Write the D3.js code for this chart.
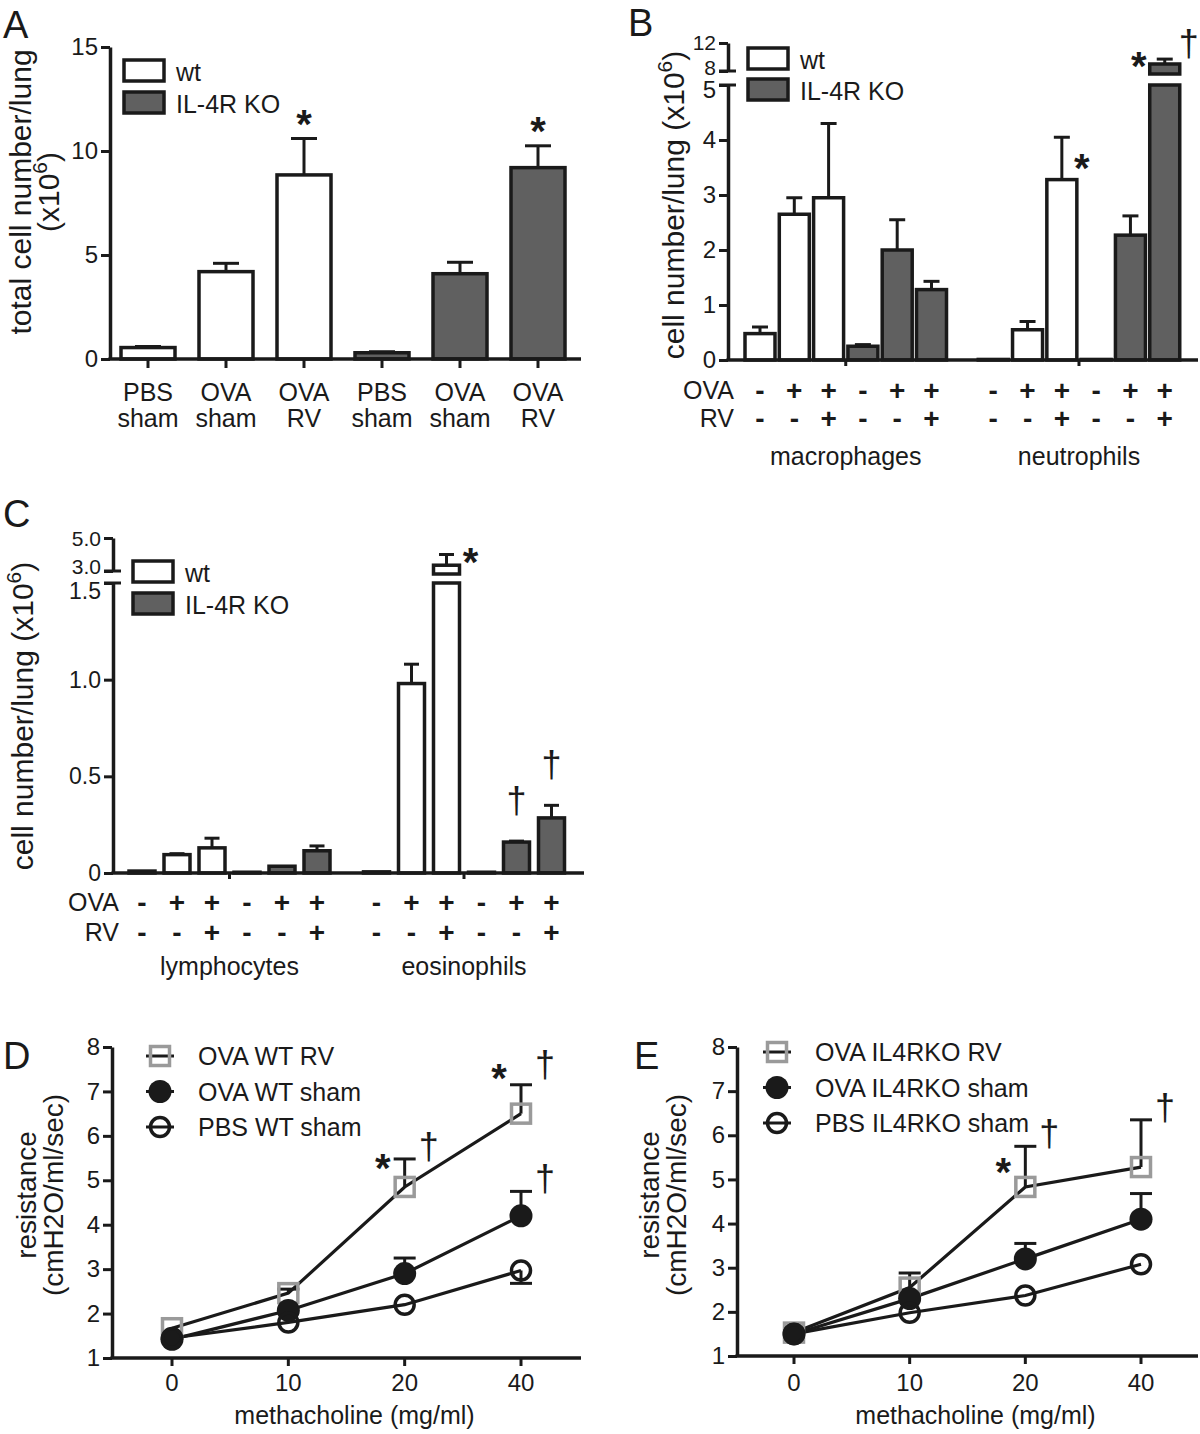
<!DOCTYPE html>
<html>
<head>
<meta charset="utf-8">
<script src="https://cdn.jsdelivr.net/npm/d3@7"></script>
<style>
body { margin: 0; background: #fff; }
</style>
</head>
<body>
<svg id="figure"></svg>
<script>
/* ---- data ---- */

/* panel A: total cells */
var aLabels = [['PBS', 'sham'], ['OVA', 'sham'], ['OVA', 'RV'], ['PBS', 'sham'], ['OVA', 'sham'], ['OVA', 'RV']];
var aGenotype = ['wt', 'wt', 'wt', 'ko', 'ko', 'ko'];
var aValues = [0.55, 4.2, 8.85, 0.3, 4.1, 9.2];
var aErrors = [0.6, 4.6, 10.6, 0.35, 4.65, 10.25];
var aTicks = [0, 5, 10, 15];
var aMarks = [{bar: 2, sym: '*', side: 'top'}, {bar: 5, sym: '*', side: 'top'}];

/* treatment rows shared by B and C (each cell group has 6 bars) */
var treatOVA = ['-', '+', '+', '-', '+', '+'];
var treatRV = ['-', '-', '+', '-', '-', '+'];
var barGenotype = ['wt', 'wt', 'wt', 'ko', 'ko', 'ko'];

/* panel B: macrophages, neutrophils */
var bCells = ['macrophages', 'neutrophils'];
var bValues = [0.48, 2.65, 2.95, 0.25, 2.0, 1.28, 0.01, 0.55, 3.28, 0.01, 2.27, 9.0];
var bErrors = [0.6, 2.95, 4.3, 0.28, 2.55, 1.43, null, 0.7, 4.05, null, 2.62, 9.7];
var bTicksLow = [0, 1, 2, 3, 4, 5];
var bTicksHigh = [8, 12];
var bMarks = [{bar: 8, sym: '*', side: 'rightlow'}, {bar: 11, sym: '*', side: 'left'}, {bar: 11, sym: '\u2020', side: 'right'}];

/* panel C: lymphocytes, eosinophils */
var cCells = ['lymphocytes', 'eosinophils'];
var cValues = [0.01, 0.095, 0.13, 0.004, 0.035, 0.115, 0.006, 0.98, 3.35, 0.004, 0.16, 0.285];
var cErrors = [null, 0.1, 0.18, null, null, 0.14, null, 1.08, 4.0, null, 0.165, 0.35];
var cTicksLow = [0, 0.5, 1.0, 1.5];
var cTicksHigh = [3.0, 5.0];
var cMarks = [{bar: 8, sym: '*', side: 'right'}, {bar: 10, sym: '\u2020', side: 'top'}, {bar: 11, sym: '\u2020', side: 'top'}];

/* panels D and E: airway resistance */
var doses = ['0', '10', '20', '40'];
var resTicks = [1, 2, 3, 4, 5, 6, 7, 8];

var dNames = ['OVA WT RV', 'OVA WT sham', 'PBS WT sham'];
var dRV = [1.67, 2.46, 4.85, 6.5];
var dRVErr = [null, 2.55, 5.48, 7.15];
var dSham = [1.42, 2.07, 2.9, 4.2];
var dShamErr = [null, null, 3.25, 4.75];
var dPBS = [1.45, 1.8, 2.2, 2.97];
var dPBSErr = [null, null, null, 2.68];
var dMarks = [{s: 0, d: 2, sym: '*', at: 'cap'}, {s: 0, d: 2, sym: '\u2020', at: 'cap'},
              {s: 0, d: 3, sym: '*', at: 'above'}, {s: 0, d: 3, sym: '\u2020', at: 'above'},
              {s: 1, d: 3, sym: '\u2020', at: 'cap'}];

var eNames = ['OVA IL4RKO RV', 'OVA IL4RKO sham', 'PBS IL4RKO sham'];
var eRV = [1.53, 2.55, 4.83, 5.28];
var eRVErr = [null, 2.88, 5.75, 6.35];
var eSham = [1.5, 2.3, 3.2, 4.1];
var eShamErr = [null, null, 3.55, 4.68];
var ePBS = [1.5, 1.98, 2.37, 3.08];
var ePBSErr = [null, null, null, null];
var eMarks = [{s: 0, d: 2, sym: '*', at: 'mid'}, {s: 0, d: 2, sym: '\u2020', at: 'cap'},
              {s: 0, d: 3, sym: '\u2020', at: 'cap'}];

/* ---- drawing ---- */
var width = 1200;
var height = 1434;
var font = '"Liberation Sans", Arial, Helvetica, sans-serif';
var ink = '#1a1a1a';
var koFill = '#606060';
var markerGray = '#9a9a9a';

var svg = d3.select('#figure').attr('width', width).attr('height', height)
    .style('font-family', font);
svg.append('rect').attr('width', width).attr('height', height).attr('fill', '#fff');

function addText(g, x, y, str, size, anchor, weight) {
    return g.append('text')
        .attr('x', x).attr('y', y)
        .attr('font-size', size)
        .attr('text-anchor', anchor || 'start')
        .attr('font-weight', weight || 'normal')
        .attr('fill', ink)
        .text(str);
}

function panelLetter(letter, x, y) {
    addText(svg, x, y, letter, 38);
}

/* rotated axis title; parts with sup=true are raised */
function yTitle(x, cy, parts, size) {
    var t = svg.append('text')
        .attr('transform', 'translate(' + x + ',' + cy + ') rotate(-90)')
        .attr('text-anchor', 'middle')
        .attr('font-size', size)
        .attr('fill', ink);
    parts.forEach(function(p) {
        if (p.sup) {
            t.append('tspan').attr('dy', -12).attr('font-size', size * 0.7).text(p.t);
        } else if (p.down) {
            t.append('tspan').attr('dy', 12).text(p.t);
        } else {
            t.append('tspan').text(p.t);
        }
    });
}

function leftAxis(x, scale, ticks, fmt, shift, size) {
    var ax = d3.axisLeft(scale).tickValues(ticks).tickSize(9).tickSizeOuter(0).tickPadding(3)
        .tickFormat(fmt || function(d) { return String(d); });
    var a = svg.append('g').attr('transform', 'translate(' + x + ',0)').call(ax);
    a.select('.domain').attr('stroke', ink).attr('stroke-width', 3.5);
    a.selectAll('.tick line').attr('stroke', ink).attr('stroke-width', 3);
    a.selectAll('.tick text').attr('font-size', size || 24).attr('font-family', font).attr('fill', ink)
        .attr('y', function(d) { return shift ? shift(d) : 0; });
    return a;
}

function hLine(x1, x2, y, w) {
    svg.append('line').attr('x1', x1).attr('x2', x2).attr('y1', y).attr('y2', y)
        .attr('stroke', ink).attr('stroke-width', w || 3.5);
}

function vLine(x, y1, y2, w) {
    svg.append('line').attr('x1', x).attr('x2', x).attr('y1', y1).attr('y2', y2)
        .attr('stroke', ink).attr('stroke-width', w || 3);
}

function drawMark(x, y, sym) {
    /* x,y is the visual centre of the glyph */
    if (sym === '*') {
        addText(svg, x, y + 23, '*', 40, 'middle', 'bold');
    } else {
        addText(svg, x, y + 10, sym, 36, 'middle');
    }
}

function legendBoxes(x, y1, y2, labels) {
    [y1, y2].forEach(function(y, k) {
        svg.append('rect').attr('x', x).attr('y', y).attr('width', 40).attr('height', 21)
            .attr('fill', k === 0 ? '#fff' : koFill).attr('stroke', ink).attr('stroke-width', 3.5);
        addText(svg, x + 52, y + 21, labels[k], 25);
    });
}

/* bars with optional broken axis */
function drawBars(xs, yLow, yHigh, lowMax, values, errors, genotype, barW, capW) {
    var tops = [];
    values.forEach(function(v, i) {
        var x = xs(i);
        var fill = genotype[i % genotype.length] === 'ko' ? koFill : '#fff';
        var top;
        if (yHigh && v > lowMax) {
            svg.append('rect').attr('x', x - barW / 2).attr('y', yLow(lowMax))
                .attr('width', barW).attr('height', yLow(0) - yLow(lowMax))
                .attr('fill', fill).attr('stroke', ink).attr('stroke-width', 3.5);
            var base = yHigh.range()[0] + 3;
            svg.append('rect').attr('x', x - barW / 2).attr('y', yHigh(v))
                .attr('width', barW).attr('height', base - yHigh(v))
                .attr('fill', fill).attr('stroke', ink).attr('stroke-width', 3.5);
            top = yHigh(v);
        } else {
            svg.append('rect').attr('x', x - barW / 2).attr('y', yLow(v))
                .attr('width', barW).attr('height', Math.max(0.5, yLow(0) - yLow(v)))
                .attr('fill', fill).attr('stroke', ink).attr('stroke-width', 3.5);
            top = yLow(v);
        }
        var errTop = top;
        if (errors[i] != null) {
            var e = errors[i];
            errTop = (yHigh && e > lowMax) ? yHigh(e) : yLow(e);
            vLine(x, top, errTop, 3);
            hLine(x - capW / 2, x + capW / 2, errTop, 3);
        }
        tops.push(errTop);
    });
    return tops;
}

function barMarks(marks, xs, tops, topGap) {
    marks.forEach(function(m) {
        var x = xs(m.bar);
        var y = tops[m.bar];
        if (m.side === 'top') drawMark(x, y - topGap, m.sym);
        else if (m.side === 'rightlow') drawMark(x + 20, y + 22, m.sym);
        else if (m.side === 'right') drawMark(x + 24, y - (m.sym === '*' ? 2 : 13), m.sym);
        else drawMark(x - 26, y - 2, m.sym);
    });
}

/* a broken axis gets a short cross stroke at each cut end */
function breakStroke(x, y) {
    hLine(x - 9, x + 8, y, 3);
}

/* treatment rows and group labels under B and C */
function treatmentRows(xs, axisX, yOVA, yRV, yCell, cells) {
    addText(svg, axisX + 6, yOVA + 9, 'OVA', 25, 'end');
    addText(svg, axisX + 6, yRV + 9, 'RV', 25, 'end');
    for (var i = 0; i < 12; i++) {
        var j = i % 6;
        addText(svg, xs(i), yOVA + 10, treatOVA[j], 28, 'middle', 'bold');
        addText(svg, xs(i), yRV + 10, treatRV[j], 28, 'middle', 'bold');
    }
    cells.forEach(function(c, k) {
        var mid = (xs(k * 6) + xs(k * 6 + 5)) / 2;
        addText(svg, mid, yCell + 8, c, 25, 'middle');
    });
}

/* ---------- Panel A ---------- */
(function() {
    var axisX = 110;
    var y = d3.scaleLinear().domain([0, 15]).range([359, 47]);
    var xs = d3.scalePoint().domain(d3.range(6)).range([148, 538]);
    panelLetter('A', 3, 38);
    var tops = drawBars(xs, y, null, null, aValues, aErrors, aGenotype, 54, 26);
    leftAxis(axisX, y, aTicks);
    hLine(axisX - 1.5, 581, y(0));
    aLabels.forEach(function(l, i) {
        vLine(xs(i), y(0), y(0) + 9, 3);
        addText(svg, xs(i), 401, l[0], 25, 'middle');
        addText(svg, xs(i), 427, l[1], 25, 'middle');
    });
    barMarks(aMarks, xs, tops, 24);
    legendBoxes(124, 60, 92, ['wt', 'IL-4R KO']);
    yTitle(31, 192, [{t: 'total cell number/lung'}], 30);
    yTitle(59, 192, [{t: '(x10'}, {t: '6', sup: true}, {t: ')', down: true}], 30);
})();

/* ---------- Panel B ---------- */
(function() {
    var axisX = 728;
    var yLow = d3.scaleLinear().domain([0, 5]).range([360, 85]);
    var yHigh = d3.scaleLinear().domain([8, 12]).range([71, 43]);
    var xs = function(i) { return 760 + (i + (i >= 6 ? 0.8 : 0)) * 34.3; };
    panelLetter('B', 628, 36);
    var tops = drawBars(xs, yLow, yHigh, 5, bValues, bErrors, barGenotype, 30, 16);
    leftAxis(axisX, yLow, bTicksLow, null, function(d) { return d === 5 ? 5 : 0; });
    leftAxis(axisX, yHigh, bTicksHigh, null, function(d) { return d === 8 ? -3 : 0; }, 21);
    breakStroke(axisX, yHigh(8));
    breakStroke(axisX, yLow(5));
    hLine(axisX - 1.5, 1198, yLow(0));
    vLine((xs(2) + xs(3)) / 2, yLow(0), yLow(0) + 6, 3);
    vLine((xs(8) + xs(9)) / 2, yLow(0), yLow(0) + 6, 3);
    treatmentRows(xs, axisX, 390, 418, 457, bCells);
    barMarks(bMarks, xs, tops, 24);
    legendBoxes(748, 48, 79, ['wt', 'IL-4R KO']);
    yTitle(684, 205, [{t: 'cell number/lung (x10'}, {t: '6', sup: true}, {t: ')', down: true}], 30);
})();

/* ---------- Panel C ---------- */
(function() {
    var axisX = 113;
    var yLow = d3.scaleLinear().domain([0, 1.5]).range([873, 583]);
    var yHigh = d3.scaleLinear().domain([3.0, 5.0]).range([571, 538]);
    var xs = function(i) { return 142 + (i + (i >= 6 ? 0.7 : 0)) * 35; };
    var fmt = function(d) { return d === 0 ? '0' : d.toFixed(1); };
    panelLetter('C', 3, 527);
    var tops = drawBars(xs, yLow, yHigh, 1.5, cValues, cErrors, barGenotype, 26, 15);
    leftAxis(axisX, yLow, cTicksLow, fmt, function(d) { return d === 1.5 ? 8 : 0; }, 23);
    leftAxis(axisX, yHigh, cTicksHigh, fmt, function(d) { return d === 3 ? -4 : 1; }, 21);
    breakStroke(axisX, yHigh(3.0));
    breakStroke(axisX, yLow(1.5));
    hLine(axisX - 1.5, 584, yLow(0));
    vLine((xs(2) + xs(3)) / 2, yLow(0), yLow(0) + 6, 3);
    vLine((xs(8) + xs(9)) / 2, yLow(0), yLow(0) + 6, 3);
    treatmentRows(xs, axisX, 902, 932, 967, cCells);
    barMarks(cMarks, xs, tops, 38);
    legendBoxes(133, 561, 593, ['wt', 'IL-4R KO']);
    yTitle(33, 716, [{t: 'cell number/lung (x10'}, {t: '6', sup: true}, {t: ')', down: true}], 30);
})();

/* ---------- Panels D and E ---------- */
function resistancePanel(cfg) {
    var x = d3.scalePoint().domain(doses).range(cfg.xRange);
    var y = d3.scaleLinear().domain([1, 8]).range(cfg.yRange);
    panelLetter(cfg.letter, cfg.letterX, 1069);

    var series = [
        {vals: cfg.rv, err: cfg.rvErr, kind: 'square'},
        {vals: cfg.sham, err: cfg.shamErr, kind: 'filled'},
        {vals: cfg.pbs, err: cfg.pbsErr, kind: 'open'}
    ];
    var line = d3.line().x(function(d, i) { return x(doses[i]); }).y(function(d) { return y(d); });

    series.forEach(function(s) {
        svg.append('path').datum(s.vals).attr('d', line)
            .attr('fill', 'none').attr('stroke', ink).attr('stroke-width', 3.2);
    });
    series.forEach(function(s) {
        s.vals.forEach(function(v, i) {
            if (s.err[i] == null) return;
            var px = x(doses[i]);
            vLine(px, y(v), y(s.err[i]), 3);
            hLine(px - 11, px + 11, y(s.err[i]), 3);
        });
    });
    function marker(kind, px, py) {
        if (kind === 'square') {
            svg.append('rect').attr('x', px - 9.5).attr('y', py - 9.5).attr('width', 19).attr('height', 19)
                .attr('fill', 'none').attr('stroke', markerGray).attr('stroke-width', 3.5);
        } else {
            svg.append('circle').attr('cx', px).attr('cy', py).attr('r', kind === 'filled' ? 11.5 : 9.5)
                .attr('fill', kind === 'filled' ? ink : 'none')
                .attr('stroke', ink).attr('stroke-width', kind === 'filled' ? 0 : 3.5);
        }
    }
    series.forEach(function(s) {
        s.vals.forEach(function(v, i) { marker(s.kind, x(doses[i]), y(v)); });
    });

    /* axes */
    leftAxis(cfg.axisX, y, resTicks);
    hLine(cfg.axisX - 1.5, cfg.axisEnd, y(1));
    doses.forEach(function(d) {
        vLine(x(d), y(1), y(1) + 8, 3);
        addText(svg, x(d), 1391, d, 24, 'middle');
    });
    addText(svg, (cfg.axisX + cfg.axisEnd) / 2 + 8, 1424, 'methacholine (mg/ml)', 25, 'middle');
    yTitle(cfg.titleX[0], 1195, [{t: 'resistance'}], 28);
    yTitle(cfg.titleX[1], 1195, [{t: '(cmH2O/ml/sec)'}], 28);

    /* legend */
    cfg.names.forEach(function(n, k) {
        var ly = cfg.legendY + k * 35.5;
        hLine(cfg.legendX - 14, cfg.legendX + 14, ly, 3);
        marker(series[k].kind, cfg.legendX, ly);
        addText(svg, cfg.legendX + 38, ly + 9, n, 25);
    });

    /* significance marks */
    var levels = {cap: 0, above: -16, mid: 17};
    cfg.marks.forEach(function(m) {
        var s = series[m.s];
        var px = x(doses[m.d]);
        var top = s.err[m.d] != null ? y(Math.max(s.err[m.d], s.vals[m.d])) : y(s.vals[m.d]);
        if (m.sym === '*') drawMark(px - 22, top + levels[m.at], '*');
        else drawMark(px + 24, top + (m.at === 'above' ? -18 : -10), m.sym);
    });
}

resistancePanel({
    letter: 'D', letterX: 3, axisX: 112, axisEnd: 581,
    xRange: [172, 521], yRange: [1358, 1047],
    titleX: [36, 63], legendX: 160, legendY: 1056,
    names: dNames, rv: dRV, rvErr: dRVErr, sham: dSham, shamErr: dShamErr, pbs: dPBS, pbsErr: dPBSErr,
    marks: dMarks
});

resistancePanel({
    letter: 'E', letterX: 634, axisX: 737, axisEnd: 1198,
    xRange: [794, 1141], yRange: [1356, 1047],
    titleX: [659, 686], legendX: 777, legendY: 1052,
    names: eNames, rv: eRV, rvErr: eRVErr, sham: eSham, shamErr: eShamErr, pbs: ePBS, pbsErr: ePBSErr,
    marks: eMarks
});
</script>
</body>
</html>
